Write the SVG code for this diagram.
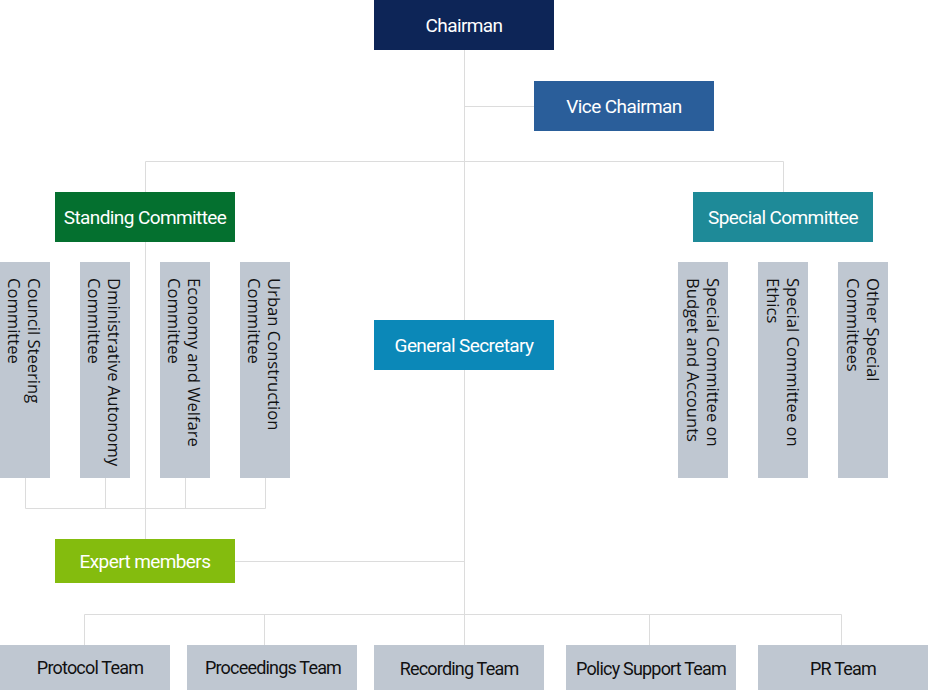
<svg xmlns="http://www.w3.org/2000/svg" width="928" height="690" viewBox="0 0 928 690">
<style>
.ln{stroke:#dcdcdc;stroke-width:1;fill:none}
.lbl{font-family:Roboto,"Liberation Sans",sans-serif;font-size:19px;fill:#fff;text-anchor:middle;letter-spacing:-0.6px}
.tl{font-family:Roboto,"Liberation Sans",sans-serif;font-size:18px;fill:#111;text-anchor:middle;letter-spacing:-0.8px}
.vt{font-family:"Open Sans","Noto Sans",sans-serif;font-size:16.6px;fill:#111}
.g{fill:#bfc7d1}
</style>
<rect width="928" height="690" fill="#fff"/>
<g id="connectors">
<path class="ln" d="M464.5 50V645"/>
<path class="ln" d="M464.5 106.5H534"/>
<path class="ln" d="M145.5 192V161.5H783.5V192"/>
<path class="ln" d="M145.5 242V539"/>
<path class="ln" d="M25.5 478V508.5H265.5V478M105.5 478V508.5M185.5 478V508.5"/>
<path class="ln" d="M235 561.5H464.5"/>
<path class="ln" d="M84.5 645V614.5H841.5V645M264.5 614.5V645M649.5 614.5V645"/>
</g>
<g id="chairman"><rect x="374" y="0" width="180" height="50" fill="#0d2557"/><text class="lbl" x="464" y="32">Chairman</text></g>
<g id="vice-chairman"><rect x="534" y="81" width="180" height="50" fill="#2a5e9a"/><text class="lbl" x="624" y="113">Vice Chairman</text></g>
<g id="standing-committee"><rect x="55" y="192" width="180" height="50" fill="#04702f"/><text class="lbl" x="145" y="224">Standing Committee</text></g>
<g id="special-committee"><rect x="693" y="192" width="180" height="50" fill="#1e8a98"/><text class="lbl" x="783" y="224">Special Committee</text></g>
<g id="general-secretary"><rect x="374" y="320" width="180" height="50" fill="#0b88b8"/><text class="lbl" x="464" y="352">General Secretary</text></g>
<g id="expert-members"><rect x="55" y="539" width="180" height="44" fill="#84bc0e"/><text class="lbl" x="145" y="568">Expert members</text></g>
<g id="council-steering"><rect class="g" x="0" y="262" width="50" height="216"/><text class="vt" transform="translate(28 278) rotate(90)"><tspan x="0" y="0">Council Steering</tspan><tspan x="0" y="20">Committee</tspan></text></g>
<g id="administrative-autonomy"><rect class="g" x="80" y="262" width="50" height="216"/><text class="vt" transform="translate(108 278) rotate(90)"><tspan x="0" y="0">Dministrative Autonomy</tspan><tspan x="0" y="20">Committee</tspan></text></g>
<g id="economy-welfare"><rect class="g" x="160" y="262" width="50" height="216"/><text class="vt" transform="translate(188 278) rotate(90)"><tspan x="0" y="0">Economy and Welfare</tspan><tspan x="0" y="20">Committee</tspan></text></g>
<g id="urban-construction"><rect class="g" x="240" y="262" width="50" height="216"/><text class="vt" transform="translate(268 278) rotate(90)"><tspan x="0" y="0">Urban Construction</tspan><tspan x="0" y="20">Committee</tspan></text></g>
<g id="budget-accounts"><rect class="g" x="678" y="262" width="50" height="216"/><text class="vt" transform="translate(707 278) rotate(90)"><tspan x="0" y="0">Special Committee on</tspan><tspan x="0" y="20">Budget and Accounts</tspan></text></g>
<g id="ethics"><rect class="g" x="758" y="262" width="50" height="216"/><text class="vt" transform="translate(787 278) rotate(90)"><tspan x="0" y="0">Special Committee on</tspan><tspan x="0" y="20">Ethics</tspan></text></g>
<g id="other-special"><rect class="g" x="838" y="262" width="50" height="216"/><text class="vt" transform="translate(867 278) rotate(90)"><tspan x="0" y="0">Other Special</tspan><tspan x="0" y="20">Committees</tspan></text></g>
<g id="protocol-team"><rect class="g" x="0" y="645" width="170" height="45"/><text class="tl" x="90" y="674">Protocol Team</text></g>
<g id="proceedings-team"><rect class="g" x="187" y="645" width="170" height="45"/><text class="tl" x="273" y="674">Proceedings Team</text></g>
<g id="recording-team"><rect class="g" x="374" y="645" width="170" height="45"/><text class="tl" x="459" y="675">Recording Team</text></g>
<g id="policy-support-team"><rect class="g" x="566" y="645" width="170" height="45"/><text class="tl" x="651" y="675">Policy Support Team</text></g>
<g id="pr-team"><rect class="g" x="758" y="645" width="170" height="45"/><text class="tl" x="843" y="675">PR Team</text></g>
</svg>
